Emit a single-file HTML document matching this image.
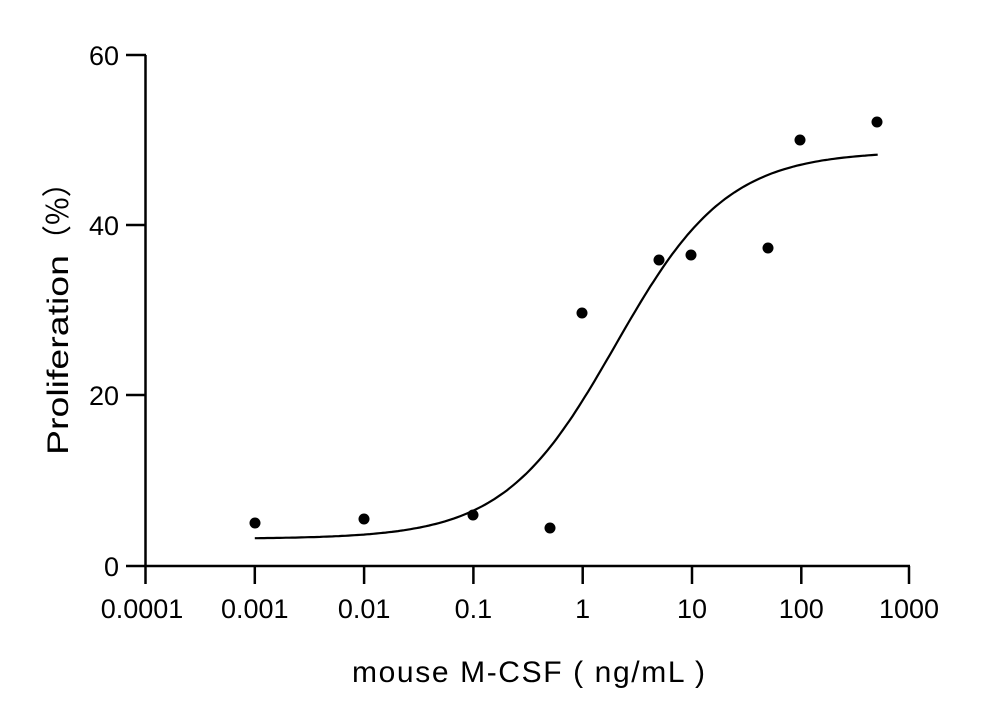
<!DOCTYPE html>
<html><head><meta charset="utf-8"><style>body{margin:0;background:#fff}svg{display:block}</style></head>
<body>
<svg id="s" width="1000" height="724" xmlns="http://www.w3.org/2000/svg" font-family="Liberation Sans, sans-serif" fill="#000">
<g stroke="#000" stroke-width="2.5" fill="none">
<line x1="145.5" y1="55" x2="145.5" y2="566"/>
<line x1="126" y1="566" x2="910" y2="566"/>
<line x1="126" y1="55" x2="146" y2="55"/>
<line x1="126" y1="225" x2="146" y2="225"/>
<line x1="126" y1="395" x2="146" y2="395"/>
<line x1="145.5" y1="566" x2="145.5" y2="584"/>
<line x1="254.8" y1="566" x2="254.8" y2="584"/>
<line x1="364.1" y1="566" x2="364.1" y2="584"/>
<line x1="473.4" y1="566" x2="473.4" y2="584"/>
<line x1="582.7" y1="566" x2="582.7" y2="584"/>
<line x1="692" y1="566" x2="692" y2="584"/>
<line x1="801.3" y1="566" x2="801.3" y2="584"/>
<line x1="909" y1="566" x2="909" y2="584"/>
<path id="c" stroke-width="2.2"/>
</g>
<g font-size="27" text-anchor="end">
<text x="119" y="65">60</text><text x="119" y="235">40</text><text x="119" y="405">20</text><text x="119" y="576">0</text>
</g>
<g font-size="27" text-anchor="middle">
<text x="142" y="618">0.0001</text><text x="254.8" y="618">0.001</text><text x="364.1" y="618">0.01</text><text x="473.4" y="618">0.1</text><text x="582.7" y="618">1</text><text x="692" y="618">10</text><text x="801.3" y="618">100</text><text x="909" y="618">1000</text>
</g>
<text x="352" y="682" font-size="30" textLength="353" lengthAdjust="spacing">mouse M-CSF ( ng/mL )</text>
<text transform="translate(68,455) rotate(-90)" font-size="30" textLength="200" lengthAdjust="spacingAndGlyphs">Proliferation</text>
<text transform="translate(68,255) rotate(-90)" font-size="30" font-family="Noto Sans CJK SC, sans-serif">（%）</text>
<g>
<circle cx="255" cy="523" r="5.5"/><circle cx="364" cy="519" r="5.5"/><circle cx="473" cy="515" r="5.5"/><circle cx="550" cy="528" r="5.5"/><circle cx="582" cy="313" r="5.5"/><circle cx="659" cy="260" r="5.5"/><circle cx="691" cy="255" r="5.5"/><circle cx="768" cy="248" r="5.5"/><circle cx="800" cy="140" r="5.5"/><circle cx="877" cy="122" r="5.5"/>
</g>
</svg>
<script>
var d="";for(var i=0;i<=200;i++){var lx=-3+i*(Math.log10(500)+3)/200;var v=3.2+45.6/(1+Math.pow(10,(0.3-lx)*0.85));var x=582.7+lx*109.3;var y=566-v*8.5;d+=(i?"L":"M")+x.toFixed(1)+" "+y.toFixed(1);}
document.getElementById("c").setAttribute("d",d);
</script>
</body></html>
